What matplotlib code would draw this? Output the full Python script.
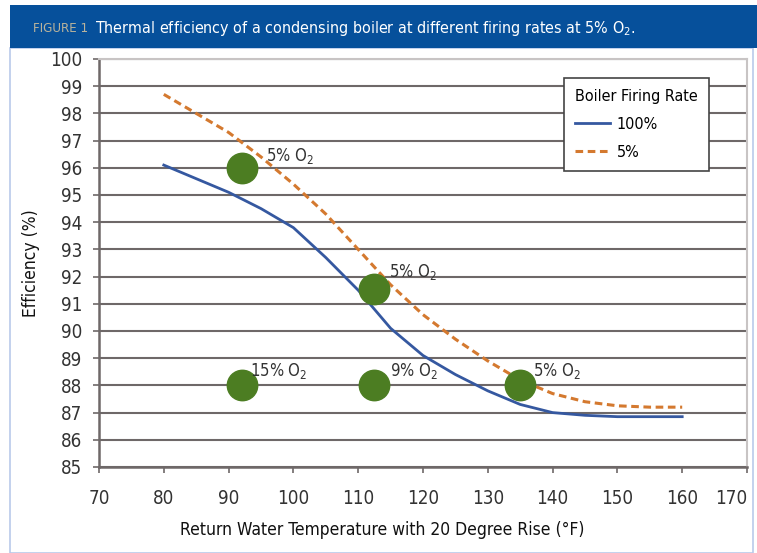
import matplotlib
matplotlib.use('Agg')
import matplotlib.pyplot as plt
import matplotlib.patches as patches
from matplotlib import font_manager as fm
import numpy as np

# look for a narrow / condensed face, the reference uses a condensed sans
narrow = None
for f in fm.fontManager.ttflist:
    st = f.stretch
    is_cond = ('Narrow' in f.name or 'Condensed' in f.name or
               (isinstance(st, str) and 'condensed' in st) or
               (isinstance(st, int) and st < 500))
    if is_cond and f.weight in (400, 'normal', 'regular', 'book'):
        if narrow is None or 'Liberation' in f.name:
            narrow = f
if narrow is not None:
    plt.rcParams['font.family'] = [narrow.name, 'DejaVu Sans']
    plt.rcParams['font.stretch'] = narrow.stretch
    k = 1.0
else:
    plt.rcParams['font.family'] = ['DejaVu Sans']
    k = 0.85
plt.rcParams['mathtext.fontset'] = 'custom'
plt.rcParams['mathtext.rm'] = plt.rcParams['font.family'][0]

# data
temp = [80, 85, 90, 95, 100, 105, 110, 115, 120, 125, 130, 135, 140, 145, 150, 155, 160]
eff_100 = [96.1, 95.6, 95.1, 94.5, 93.8, 92.7, 91.5, 90.1, 89.1, 88.4, 87.8, 87.3,
           87.0, 86.9, 86.85, 86.85, 86.85]
eff_5 = [98.7, 98.0, 97.3, 96.4, 95.4, 94.3, 93.0, 91.7, 90.6, 89.7, 88.9, 88.2,
         87.7, 87.4, 87.25, 87.2, 87.2]

dot_x = [92, 112.5, 92, 112.5, 135]
dot_y = [96, 91.55, 88, 88, 88]
dot_lbl = ['5% O$_2$', '5% O$_2$', '15% O$_2$', '9% O$_2$', '5% O$_2$']
lbl_x = [95.8, 114.8, 93.3, 114.9, 137.0]
lbl_y = [96.25, 92.0, 88.36, 88.36, 88.36]

W, H = 757, 553
fig = plt.figure(figsize=(W / 100, H / 100), dpi=100)

# outer light blue frame and title bar
fig.patches.append(patches.Rectangle((10 / W, 0), 743 / W, 1 - 48 / H, transform=fig.transFigure,
                                     fill=False, edgecolor='#b9c9ea', linewidth=1.2))
fig.patches.append(patches.Rectangle((10 / W, 1 - 48 / H), 1 - 10 / W, 43 / H, transform=fig.transFigure,
                                     facecolor='#06509b', edgecolor='none'))
fig.text(33 / W, 1 - 28 / H, 'FIGURE 1', color='#b9b39c', fontsize=9.5 * k, va='center', ha='left')
fig.text(95 / W, 1 - 28 / H, 'Thermal efficiency of a condensing boiler at different firing rates at 5% O$_2$.',
         color='white', fontsize=11.5 * k, va='center', ha='left')

ax = fig.add_axes([99 / W, 1 - 467 / H, 648 / W, 408 / H])

ax.plot(temp, eff_100, color='#3558a0', linewidth=2, label='100%')
ax.plot(temp, eff_5, color='#d4792f', linewidth=2.2, linestyle=(0, (2.5, 1.5)), label='5%')
ax.scatter(dot_x, dot_y, s=480, color='#4c7d22', zorder=5)
for x, y, t in zip(lbl_x, lbl_y, dot_lbl):
    ax.text(x, y, t, fontsize=12 * k, color='#333333', ha='left', va='baseline', zorder=6)

ax.set_xlim(70, 170)
ax.set_ylim(85, 100)
ax.set_xticks(np.arange(70, 171, 10))
ax.set_yticks(np.arange(85, 101, 1))
ax.yaxis.grid(True, color='#6e6868', linewidth=1.5)
ax.set_axisbelow(True)
for side in ['top', 'right']:
    ax.spines[side].set_color('#c8c4c4')
    ax.spines[side].set_linewidth(1.5)
for side in ['left', 'bottom']:
    ax.spines[side].set_color('#6e6868')
    ax.spines[side].set_linewidth(1.8)
ax.tick_params(axis='both', labelsize=13.5 * k, colors='#6e6868', labelcolor='#333333', length=4, width=1.2)
ax.tick_params(axis='x', pad=12)
ax.tick_params(axis='y', pad=8)
# last x label sits a bit inside the frame in the reference
ax.get_xticklabels()[-1].set_horizontalalignment('right')

ax.set_xlabel('Return Water Temperature with 20 Degree Rise (°F)', fontsize=12.5 * k, color='#111111')
ax.xaxis.set_label_coords((382 - 99) / 648, -0.133)
ax.set_ylabel('Efficiency (%)', fontsize=12.5 * k, color='#111111', labelpad=7)

leg = ax.legend(title='Boiler Firing Rate', loc='upper left', bbox_to_anchor=(564 / W, 1 - 78 / H),
                bbox_transform=fig.transFigure, fontsize=11.5 * k, title_fontsize=11.5 * k, fancybox=False,
                edgecolor='#444444', framealpha=1, handlelength=2.2, borderpad=0.7, labelspacing=0.8,
                borderaxespad=0, handletextpad=0.4)
leg._legend_box.align = 'left'
leg.get_frame().set_linewidth(1.2)

fig.savefig('out.png', dpi=100)
